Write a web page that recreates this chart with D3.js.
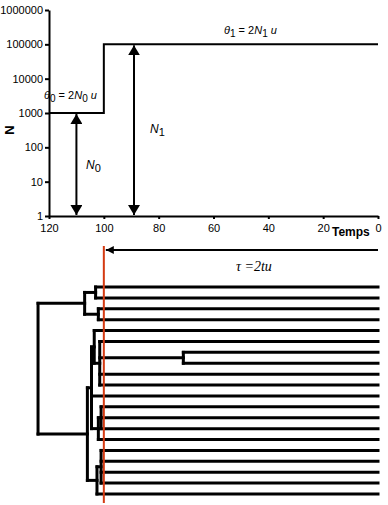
<!DOCTYPE html>
<html lang="en">

<head>
  <meta charset="utf-8">
  <title>Expansion demographique et genealogie</title>
  <script src="https://cdnjs.cloudflare.com/ajax/libs/d3/7.8.5/d3.min.js"></script>
  <style type="text/css">
    body { margin: 0; background: #fff; }
    text { font-family: "Liberation Sans", Arial, sans-serif; fill: #000; }
    .axis path, .axis line { stroke: #000; stroke-width: 2; }
    .axis text { font-size: 11px; }
    .step { fill: none; stroke: #000; stroke-width: 2; }
    .branch { fill: none; stroke: #000; stroke-width: 3; stroke-linecap: square; }
  </style>
</head>

<body>
  <script>
    var w = 388;
    var h = 505;

    // population size history (time before present)
    var stepTimes = [120, 100, 0];
    var stepSizes = [1000, 100000];
    var yTicks = [1, 10, 100, 1000, 10000, 100000, 1000000];
    var xTicks = [120, 100, 80, 60, 40, 20, 0];

    // arrows for N0 and N1 : time, value
    var arrowTimes = [110, 89];
    var arrowSizes = [1000, 100000];

    // genealogy, node heights in the same time units
    var tree = {h: 124, children: [
      {h: 107, children: [
        {h: 103, children: [{h: 0}, {h: 0}]},
        {h: 102, children: [{h: 0}, {h: 0}]}
      ]},
      {h: 106, children: [
        {h: 104.5, children: [
          {h: 103.5, children: [
            {h: 0},
            {h: 101.5, children: [
              {h: 0},
              {h: 71, children: [{h: 0}, {h: 0}]},
              {h: 0},
              {h: 0}
            ]}
          ]},
          {h: 0},
          {h: 102, children: [
            {h: 101, children: [{h: 0}, {h: 0}, {h: 0}]},
            {h: 0}
          ]}
        ]},
        {h: 102.5, children: [
          {h: 101, children: [{h: 0}, {h: 0}, {h: 0}, {h: 0}]},
          {h: 0}
        ]}
      ]}
    ]};

    var xScale = d3.scaleLinear().domain([120, 0]).range([49, 378]);
    var yScale = d3.scaleLog().domain([1, 1000000]).range([216, 10]);

    var svg = d3.select('body')
      .append('svg')
      .attr('width', w)
      .attr('height', h);

    var defs = svg.append('defs');
    defs.append('marker')
      .attr('id', 'head')
      .attr('viewBox', '0 0 10 12')
      .attr('refX', 10).attr('refY', 6)
      .attr('markerWidth', 10).attr('markerHeight', 12)
      .attr('markerUnits', 'userSpaceOnUse')
      .attr('orient', 'auto-start-reverse')
      .append('path').attr('d', 'M0,0 L10,6 L0,12 Z').attr('fill', '#000');
    defs.append('marker')
      .attr('id', 'small')
      .attr('viewBox', '0 0 8 8')
      .attr('refX', 8).attr('refY', 4)
      .attr('markerWidth', 8).attr('markerHeight', 8)
      .attr('markerUnits', 'userSpaceOnUse')
      .attr('orient', 'auto')
      .append('path').attr('d', 'M0,0 L8,4 L0,8 Z').attr('fill', '#000');

    // axes
    var xAxis = d3.axisBottom(xScale).tickValues(xTicks).tickSize(3).tickSizeOuter(0)
      .tickFormat(d3.format('d'));
    svg.append('g').attr('class', 'axis')
      .attr('transform', 'translate(0,216)')
      .call(xAxis)
      .call(g => g.selectAll('text').attr('dy', '0.95em'));

    var yAxis = d3.axisLeft(yScale).tickValues(yTicks).tickSize(4).tickSizeOuter(0)
      .tickFormat(d3.format('d'));
    svg.append('g').attr('class', 'axis')
      .attr('transform', 'translate(49,0)')
      .call(yAxis)
      .call(g => g.selectAll('text').attr('x', -6));

    svg.append('text')
      .attr('transform', 'translate(14,130) rotate(-90)')
      .attr('text-anchor', 'middle')
      .style('font-size', '13px').style('font-weight', 'bold')
      .text('N');

    svg.append('text')
      .attr('x', 332).attr('y', 236)
      .style('font-size', '12px').style('font-weight', 'bold')
      .text('Temps');

    // step line of population size
    var stepPts = [];
    stepSizes.forEach(function (n, i) {
      stepPts.push([stepTimes[i], n]);
      stepPts.push([stepTimes[i + 1], n]);
    });
    var line = d3.line()
      .x(d => xScale(d[0]))
      .y(d => yScale(d[1]));
    svg.append('path')
      .datum(stepPts)
      .attr('class', 'step')
      .attr('d', line);

    // double arrows
    arrowTimes.forEach(function (t, i) {
      svg.append('line')
        .attr('x1', xScale(t)).attr('x2', xScale(t))
        .attr('y1', yScale(arrowSizes[i]) + 1).attr('y2', yScale(1) - 1)
        .attr('stroke', '#000').attr('stroke-width', 2)
        .attr('marker-start', 'url(#head)')
        .attr('marker-end', 'url(#head)');
    });

    // labels with subscripts
    function label (x, y, parts, size, italic) {
      var t = svg.append('text').attr('x', x).attr('y', y)
        .style('font-size', size + 'px');
      if (italic) t.style('font-style', 'italic');
      parts.forEach(function (p) {
        var s = t.append('tspan').text(p[0]);
        if (p[1] === 'sub') s.attr('dy', 3).style('font-size', (size - 1) + 'px');
        if (p[1] === 'up') s.attr('dy', -3);
        if (p[2]) s.style('font-style', 'italic');
      });
      return t;
    }

    label(44, 99, [['\u03B8', '', 1], ['0', 'sub'], [' = 2', 'up'], ['N', '', 1], ['0', 'sub'], [' u', 'up', 1]], 11);
    label(224, 34, [['\u03B8', '', 1], ['1', 'sub'], [' = 2', 'up'], ['N', '', 1], ['1', 'sub'], [' u', 'up', 1]], 11);
    label(86, 169, [['N', '', 1], ['0', 'sub']], 12);
    label(150, 133, [['N', '', 1], ['1', 'sub']], 12);

    // tau arrow
    svg.append('line')
      .attr('x1', xScale(0)).attr('x2', xScale(100) + 2)
      .attr('y1', 250).attr('y2', 250)
      .attr('stroke', '#000').attr('stroke-width', 2)
      .attr('marker-end', 'url(#small)');
    svg.append('text')
      .attr('x', 236).attr('y', 271)
      .style('font-size', '14px').style('font-style', 'italic')
      .style('font-family', '"Liberation Serif", serif')
      .text('\u03C4 =2tu');

    // genealogy
    var root = d3.hierarchy(tree);
    var leaves = root.leaves();
    var leafY = d3.scalePoint().domain(d3.range(leaves.length)).range([287, 494]);
    leaves.forEach(function (d, i) { d.y = leafY(i); });
    root.eachAfter(function (d) {
      if (d.children) {
        d.y = (d.children[0].y + d.children[d.children.length - 1].y) / 2;
      }
    });

    var tg = svg.append('g');
    root.each(function (d) {
      if (!d.children) return;
      var x = xScale(d.data.h);
      tg.append('line').attr('class', 'branch')
        .attr('x1', x).attr('x2', x)
        .attr('y1', d.children[0].y).attr('y2', d.children[d.children.length - 1].y);
      d.children.forEach(function (c) {
        tg.append('line').attr('class', 'branch')
          .attr('x1', x).attr('x2', xScale(c.data.h))
          .attr('y1', c.y).attr('y2', c.y);
      });
    });

    // red line at expansion time
    svg.append('line')
      .attr('x1', xScale(100)).attr('x2', xScale(100))
      .attr('y1', 246).attr('y2', 503)
      .attr('stroke', '#d43a12').attr('stroke-width', 2);
  </script>
</body>

</html>
